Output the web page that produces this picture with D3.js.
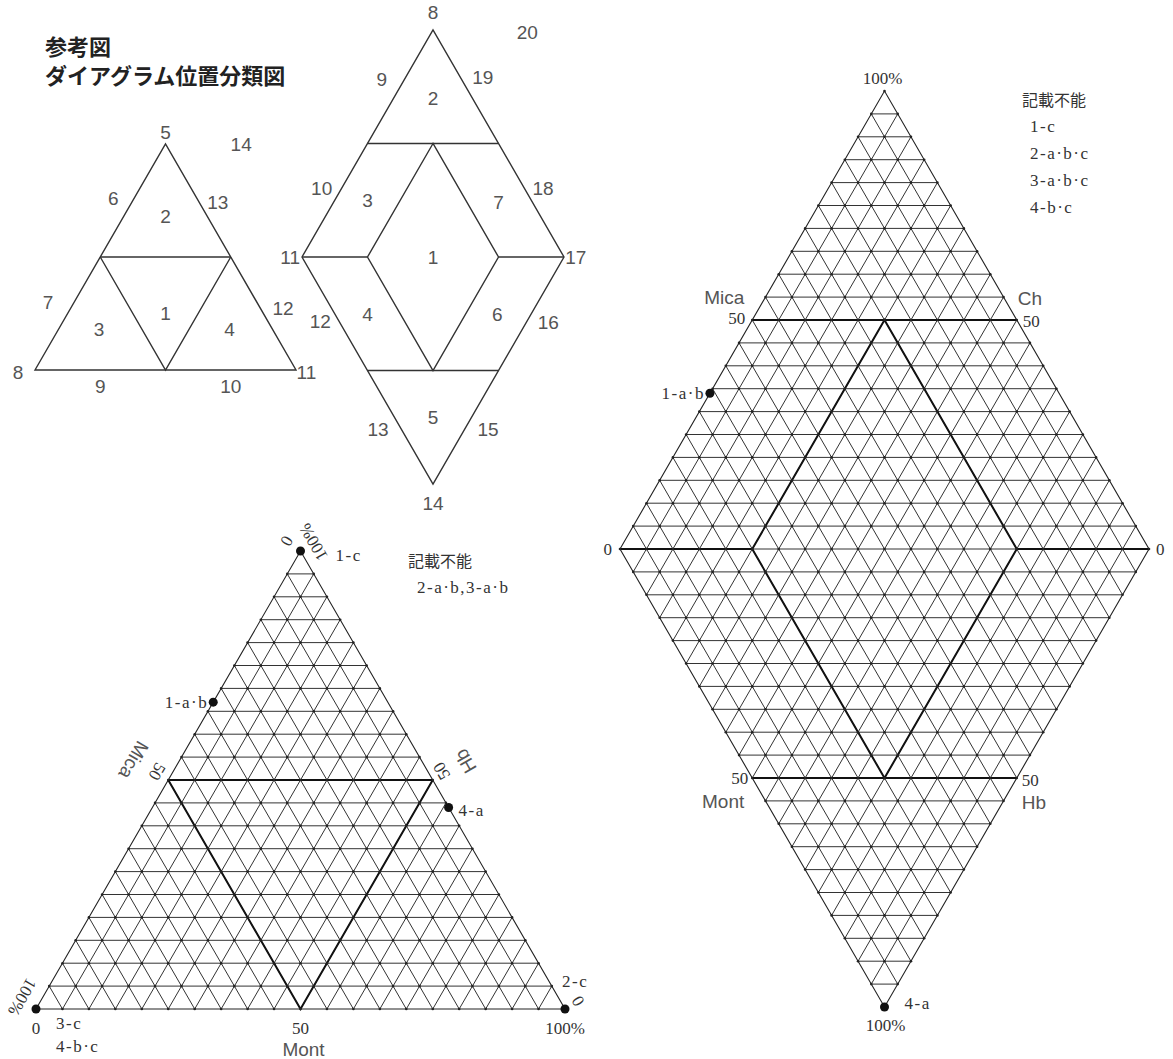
<!DOCTYPE html>
<html>
<head>
<meta charset="utf-8">
<script src="https://cdn.jsdelivr.net/npm/d3@7"></script>
<style>
  body { margin: 0; background: #fff; }
  .sans { font-family: "Liberation Sans", "DejaVu Sans", sans-serif; fill: #555; }
  .serif { font-family: "Liberation Serif", "Noto Sans CJK JP", serif; fill: #333; }
  .lbl { letter-spacing: 1.5px; }
  .cjk { font-family: "Noto Sans CJK JP", sans-serif; fill: #333; }
</style>
</head>
<body>
<div id="chart"></div>
<script>
// ---- data ----
const gridSteps = d3.range(5, 100, 5);            // 5 % grid lines
const nodeSteps = d3.range(0, 101, 5);

// triangle points: top = % at apex corner, right = % at lower right corner
const triPoints = [
  {labels: ["1-c"], top: 100, right: 0},
  {labels: ["1-a·b"], top: 67, right: 0},
  {labels: ["4-a"], top: 44, right: 56},
  {labels: ["2-c"], top: 0, right: 100},
  {labels: ["3-c", "4-b·c"], top: 0, right: 0}
];
// diamond points: p along upper-left edge, q along lower-left edge
const diaPoints = [
  {labels: ["1-a·b"], p: 34, q: 0},
  {labels: ["4-a"], p: 0, q: 100}
];
const triNotes = ["記載不能", "2-a·b,3-a·b"];
const diaNotes = ["記載不能", "1-c", "2-a·b·c", "3-a·b·c", "4-b·c"];

const triBaseTicks = ["0", "50", "100%"];     // Mont
const triLeftTicks = ["100%", "50", "0"];     // Mica, bottom -> top
const triRightTicks = ["0", "50", "100%"];    // Hb, bottom -> top
const triAxes = ["Mont", "Mica", "Hb"];
const diaAxes = ["Mica", "Ch", "Mont", "Hb"];

const titleLines = ["参考図", "ダイアグラム位置分類図"];

// schematic labels [text, u, v] in % of shape width / height
const schemTriLabels = [
  ["5", 50, 105], ["14", 79, 100], ["6", 30, 76], ["13", 70, 74], ["2", 50, 68],
  ["7", 5, 30], ["1", 50, 25], ["12", 95, 27], ["3", 24.5, 18], ["4", 74.5, 18],
  ["8", -6.5, -1], ["11", 104, -1], ["9", 25, -7.5], ["10", 75, -7.5]
];
const schemDiaLabels = [
  ["8", 50, 107.5], ["20", 86, 99], ["9", 30.5, 78], ["19", 69, 79], ["2", 50, 70],
  ["10", 7.5, 30], ["3", 25, 25], ["7", 75, 24], ["18", 92, 30],
  ["11", -4.5, 0], ["1", 50, 0], ["17", 104.5, 0],
  ["12", 7, -28.5], ["4", 25, -25.5], ["6", 74.5, -25.5], ["16", 94, -29],
  ["13", 29, -76], ["5", 50, -70.5], ["15", 71, -76], ["14", 50, -108.5]
];

// ---- svg ----
const svg = d3.select("#chart").append("svg")
  .attr("width", 1173).attr("height", 1059)
  .style("background", "#fff");

const line = d3.line();
const gridColor = "#333";

function drawPaths(g, paths, width, color, closed) {
  g.selectAll(null).data(paths).enter().append("path")
    .attr("d", d => line(d) + (closed ? "Z" : ""))
    .attr("fill", "none")
    .attr("stroke", color)
    .attr("stroke-width", width)
    .attr("stroke-linejoin", "miter");
}

// ---- title ----
svg.selectAll(".title").data(titleLines).enter().append("text")
  .attr("class", "title")
  .attr("x", 45).attr("y", (d, i) => 55 + i * 29)
  .style("font-family", "'Noto Sans CJK JP', sans-serif")
  .style("font-weight", "bold")
  .style("font-size", "22px")
  .style("fill", "#222")
  .text(d => d);

// ---- schematic triangle ----
{
  const sx = d3.scaleLinear().domain([0, 100]).range([35, 296]);
  const sy = d3.scaleLinear().domain([0, 100]).range([370, 144]);
  const P = (u, v) => [sx(u), sy(v)];
  const g = svg.append("g");
  drawPaths(g, [[P(0, 0), P(50, 100), P(100, 0)]], 1.4, "#333", true);
  drawPaths(g, [[P(25, 50), P(75, 50)], [P(25, 50), P(50, 0), P(75, 50)]], 1.4, "#333", false);
  g.selectAll("text").data(schemTriLabels).enter().append("text")
    .attr("class", "sans")
    .attr("x", d => sx(d[1])).attr("y", d => sy(d[2]))
    .attr("text-anchor", "middle").attr("dominant-baseline", "central")
    .style("font-size", "19px")
    .text(d => d[0]);
}

// ---- schematic diamond ----
{
  const mx = d3.scaleLinear().domain([0, 100]).range([302, 564]);
  const my = d3.scaleLinear().domain([-100, 100]).range([484, 30]);
  const P = (u, v) => [mx(u), my(v)];
  const g = svg.append("g");
  drawPaths(g, [[P(0, 0), P(50, 100), P(100, 0), P(50, -100)],
                [P(50, 50), P(25, 0), P(50, -50), P(75, 0)]], 1.4, "#333", true);
  drawPaths(g, [[P(25, 50), P(75, 50)], [P(25, -50), P(75, -50)],
                [P(0, 0), P(25, 0)], [P(75, 0), P(100, 0)]], 1.4, "#333", false);
  g.selectAll("text").data(schemDiaLabels).enter().append("text")
    .attr("class", "sans")
    .attr("x", d => mx(d[1])).attr("y", d => my(d[2]))
    .attr("text-anchor", "middle").attr("dominant-baseline", "central")
    .style("font-size", "19px")
    .text(d => d[0]);
}

// ---- ternary triangle ----
{
  const tx = d3.scaleLinear().domain([0, 100]).range([36, 565]);
  const ty = d3.scaleLinear().domain([0, 100]).range([1009, 551]);
  const T = (t, r) => [tx(r + t / 2), ty(t)];
  const g = svg.append("g");

  const grid = [];
  gridSteps.forEach(k => {
    grid.push([T(k, 0), T(k, 100 - k)]);          // horizontal
    grid.push([T(0, k), T(100 - k, k)]);          // constant right
    grid.push([T(0, 100 - k), T(100 - k, 0)]);    // constant left
  });
  drawPaths(g, grid, 1, gridColor, false);
  drawPaths(g, [[T(0, 0), T(100, 0), T(0, 100)]], 1.1, "#222", true);
  drawPaths(g, [[T(50, 0), T(50, 50)], [T(50, 0), T(0, 50), T(50, 50)]], 2, "#111", false);

  const nodes = [];
  nodeSteps.forEach(t => nodeSteps.filter(r => r <= 100 - t).forEach(r => nodes.push(T(t, r))));
  g.selectAll(".node").data(nodes).enter().append("circle")
    .attr("cx", d => d[0]).attr("cy", d => d[1]).attr("r", 1.3).attr("fill", "#222");

  g.selectAll(".pt").data(triPoints).enter().append("circle")
    .attr("cx", d => T(d.top, d.right)[0]).attr("cy", d => T(d.top, d.right)[1])
    .attr("r", 4.5).attr("fill", "#111");

  // point labels: offset / anchor per label
  const ptStyle = {
    "1-c": [35, 4, "start"], "1-a·b": [-5, 0, "end"], "4-a": [10, 3, "start"],
    "2-c": [-3, -28, "start"], "3-c": [20, 14, "start"], "4-b·c": [20, 37, "start"]
  };
  triPoints.forEach(d => {
    const [x, y] = T(d.top, d.right);
    d.labels.forEach(l => {
      const s = ptStyle[l];
      g.append("text").attr("class", "serif lbl")
        .attr("x", x + s[0]).attr("y", y + s[1])
        .attr("text-anchor", s[2]).attr("dominant-baseline", "central")
        .style("font-size", "17px").text(l);
    });
  });

  // base axis (Mont)
  [0, 50, 100].forEach((r, i) => {
    const [x, y] = T(0, r);
    g.append("text").attr("class", "serif")
      .attr("x", x).attr("y", y + 19)
      .attr("text-anchor", "middle").attr("dominant-baseline", "central")
      .style("font-size", "17px").text(triBaseTicks[i]);
  });
  g.append("text").attr("class", "sans")
    .attr("x", T(0, 50)[0] + 3).attr("y", T(0, 50)[1] + 40)
    .attr("text-anchor", "middle").attr("dominant-baseline", "central")
    .style("font-size", "19px").text(triAxes[0]);

  const rotText = (x, y, ang, txt, cls, size) =>
    g.append("text").attr("class", cls)
      .attr("transform", `translate(${x},${y}) rotate(${ang})`)
      .attr("text-anchor", "middle").attr("dominant-baseline", "central")
      .style("font-size", size).text(txt);
  const nl = [-0.866, -0.5], nr = [0.866, -0.5];

  // left axis (Mica) rotated 120
  [0, 50, 100].forEach((t, i) => {
    const [x, y] = T(t, 0);
    const dist = i === 0 ? 17 : (i === 1 ? 13 : 16);
    const ox = i === 0 ? -14 : nl[0] * dist, oy = i === 0 ? -12 : nl[1] * dist - 2;
    rotText(x + ox, y + oy, 120, triLeftTicks[i], "serif", "17px");
  });
  rotText(T(50, 0)[0] + nl[0] * 40, T(50, 0)[1] + nl[1] * 40, 120, triAxes[1], "sans", "19px");

  // right axis (Hb) rotated 240
  [0, 50, 100].forEach((t, i) => {
    const [x, y] = T(t, 100 - t);
    const ox = i === 0 ? 13 : (i === 1 ? 9 : 13), oy = i === 0 ? -8 : (i === 1 ? -9 : -9);
    rotText(x + ox, y + oy, 240, triRightTicks[i], "serif", "17px");
  });
  rotText(T(50, 50)[0] + nr[0] * 38, T(50, 50)[1] + nr[1] * 38, 240, triAxes[2], "sans", "19px");

  // notes
  g.selectAll(".note").data(triNotes).enter().append("text")
    .attr("class", (d, i) => i === 0 ? "cjk" : "serif lbl")
    .attr("x", (d, i) => i === 0 ? 408 : 417).attr("y", (d, i) => 560 + i * 27)
    .attr("dominant-baseline", "central")
    .style("font-size", (d, i) => i === 0 ? "16px" : "17px")
    .text(d => d);
}

// ---- diamond ----
{
  const dx = d3.scaleLinear().domain([0, 200]).range([620, 1149]);
  const dy = d3.scaleLinear().domain([-100, 100]).range([1007, 91]);
  const D = (p, q) => [dx(p + q), dy(p - q)];
  const g = svg.append("g");

  const grid = [];
  gridSteps.forEach(k => {
    grid.push([D(k, 0), D(k, 100)]);
    grid.push([D(0, k), D(100, k)]);
  });
  d3.range(-95, 100, 5).forEach(c => {
    if (c >= 0) grid.push([D(c, 0), D(100, 100 - c)]);
    else grid.push([D(0, -c), D(100 + c, 100)]);
  });
  drawPaths(g, grid, 1, gridColor, false);
  drawPaths(g, [[D(0, 0), D(100, 0), D(100, 100), D(0, 100)]], 1.1, "#222", true);
  drawPaths(g, [[D(50, 0), D(100, 50)], [D(0, 50), D(50, 100)],
                [D(0, 0), D(25, 25)], [D(75, 75), D(100, 100)]], 2, "#111", false);
  drawPaths(g, [[D(75, 25), D(25, 25), D(25, 75), D(75, 75)]], 2, "#111", true);

  const nodes = [];
  nodeSteps.forEach(p => nodeSteps.forEach(q => nodes.push(D(p, q))));
  g.selectAll(".node").data(nodes).enter().append("circle")
    .attr("cx", d => d[0]).attr("cy", d => d[1]).attr("r", 1.3).attr("fill", "#222");

  g.selectAll(".pt").data(diaPoints).enter().append("circle")
    .attr("cx", d => D(d.p, d.q)[0]).attr("cy", d => D(d.p, d.q)[1])
    .attr("r", 4.5).attr("fill", "#111");
  const ptStyle = {"1-a·b": [-5, 0, "end"], "4-a": [20, -4, "start"]};
  diaPoints.forEach(d => {
    const [x, y] = D(d.p, d.q);
    d.labels.forEach(l => {
      const s = ptStyle[l];
      g.append("text").attr("class", "serif lbl")
        .attr("x", x + s[0]).attr("y", y + s[1])
        .attr("text-anchor", s[2]).attr("dominant-baseline", "central")
        .style("font-size", "17px").text(l);
    });
  });

  const txt = (x, y, anchor, t, cls, size) =>
    g.append("text").attr("class", cls).attr("x", x).attr("y", y)
      .attr("text-anchor", anchor).attr("dominant-baseline", "central")
      .style("font-size", size).text(t);

  txt(D(100, 0)[0] - 2, D(100, 0)[1] - 13, "middle", "100%", "serif", "17px");
  txt(D(0, 100)[0] + 1, D(0, 100)[1] + 18, "middle", "100%", "serif", "17px");
  txt(D(0, 0)[0] - 8, D(0, 0)[1], "end", "0", "serif", "17px");
  txt(D(100, 100)[0] + 7, D(100, 100)[1], "start", "0", "serif", "17px");

  const ul = D(50, 0), ur = D(100, 50), ll = D(0, 50), lr = D(50, 100);
  txt(ul[0] - 7, ul[1] - 2, "end", "50", "serif", "17px");
  txt(ul[0] - 8, ul[1] - 23, "end", diaAxes[0], "sans", "19px");
  txt(ur[0] + 6, ur[1] + 1, "start", "50", "serif", "17px");
  txt(ur[0] + 1, ur[1] - 22, "start", diaAxes[1], "sans", "19px");
  txt(ll[0] - 4, ll[1], "end", "50", "serif", "17px");
  txt(ll[0] - 8, ll[1] + 23, "end", diaAxes[2], "sans", "19px");
  txt(lr[0] + 5, lr[1] + 2, "start", "50", "serif", "17px");
  txt(lr[0] + 5, lr[1] + 24, "start", diaAxes[3], "sans", "19px");

  g.selectAll(".note").data(diaNotes).enter().append("text")
    .attr("class", (d, i) => i === 0 ? "cjk" : "serif lbl")
    .attr("x", (d, i) => i === 0 ? 1022 : 1030).attr("y", (d, i) => 99 + i * 27)
    .attr("dominant-baseline", "central")
    .style("font-size", (d, i) => i === 0 ? "16px" : "17px")
    .text(d => d);
}
</script>
</body>
</html>
